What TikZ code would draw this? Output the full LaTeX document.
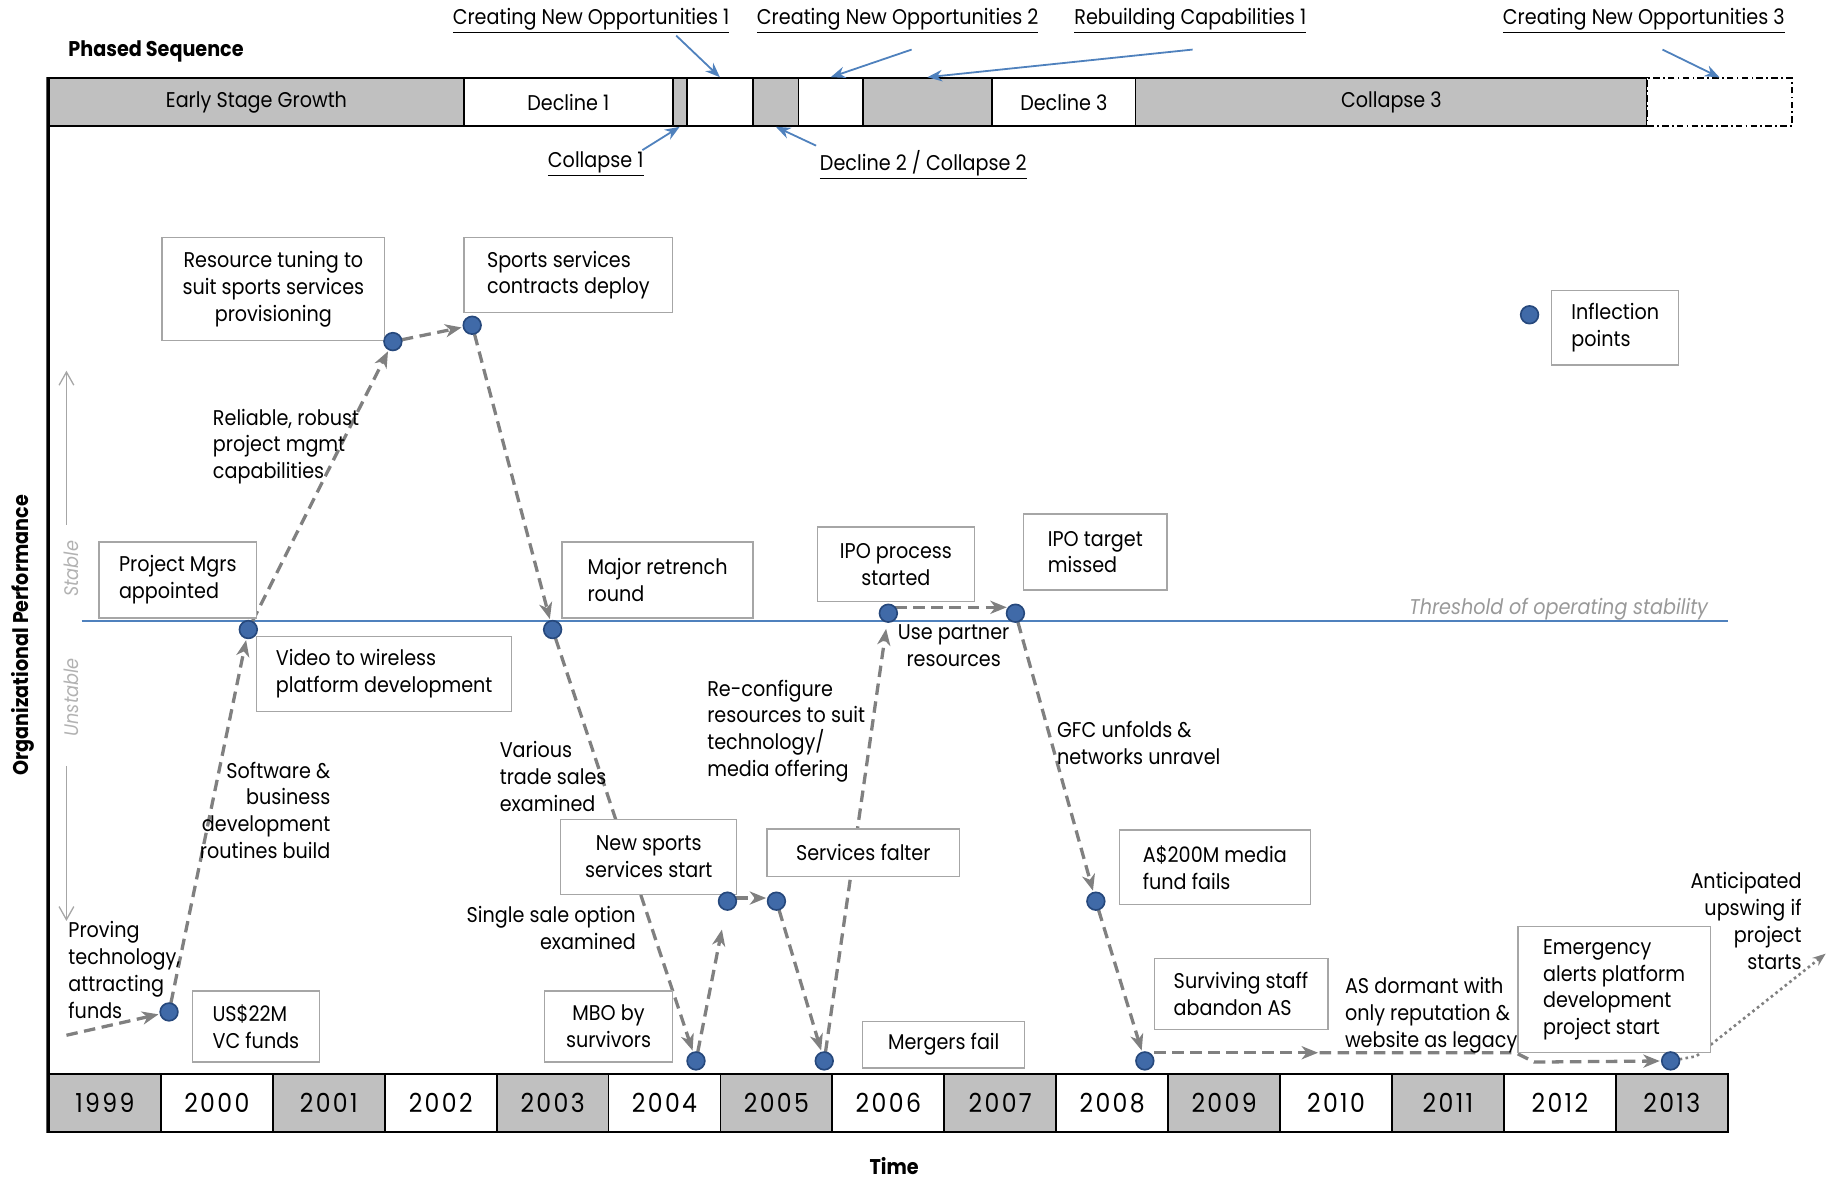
\documentclass[tikz,border=0pt]{standalone}
\usepackage{fontspec}
\setmainfont{Poppins}[FakeStretch=0.9]
\newfontfamily\yearfont{Poppins}[FakeStretch=0.9,LetterSpace=9]
\usetikzlibrary{arrows.meta,calc,positioning}
\definecolor{barfill}{RGB}{192,192,192}
\definecolor{dotfill}{RGB}{64,106,168}
\definecolor{dotedge}{RGB}{38,72,124}
\definecolor{linkblue}{RGB}{79,129,189}
\definecolor{trendgray}{RGB}{128,128,128}

\begin{document}
\begin{tikzpicture}[x=0.25mm, y=-0.25mm, >=Stealth, font=\fontsize{13}{16.3}\selectfont,
    phase/.style={draw, line width=1.1pt, minimum height=10.25mm, inner sep=0pt},
    yearcell/.style={draw, line width=1.1pt, minimum width=24mm, minimum height=12.5mm, inner sep=0pt, font=\yearfont\fontsize{16}{16}\selectfont},
    box/.style={draw=gray!70, fill=white, line width=0.8pt, inner sep=2pt},
    note/.style={inner sep=1pt},
    dotspot/.style={circle, minimum size=3.8mm, inner sep=0pt},
    dot/.style={circle, fill=dotfill, draw=dotedge, line width=1pt, minimum size=3.8mm, inner sep=0pt},
    trend/.style={draw=trendgray, line width=2pt, dash pattern=on 7pt off 4pt, shorten >=1pt, arrows={-Stealth[length=10pt, width=8pt, inset=3pt]}},
    pointer/.style={draw=linkblue, line width=1.1pt, arrows={-Stealth[length=9pt, width=7pt]}},
    toplabel/.style={inner sep=1pt},
    heading/.style={font=\bfseries\fontsize{13}{15}\selectfont, inner sep=1pt}
]
    \useasboundingbox (0,0) rectangle (1568,1013);

    % phased sequence bar
    \node[heading, anchor=west] (title) at (57,44) {Phased Sequence};
    \foreach \n/\a/\b/\c/\t in {esg/42/398/barfill/Early Stage Growth, dec1/398/577/white/Decline 1,
        col1b/577/589/barfill/{}, cno1b/589/646/white/{}, dc2b/646/685/barfill/{},
        cno2b/685/740/white/{}, rc1b/740/851/barfill/{}, dec3/851/974/white/Decline 3,
        col3/974/1413/barfill/Collapse 3}{
        \node[phase, fill=\c, minimum width={(\b-\a)*0.25mm}] (\n) at ({(\a+\b)/2},87.5) {\t};
    }
    \node[phase, fill=white, line width=0.8pt, dash pattern=on 4pt off 2pt on 1pt off 2pt, minimum width=31mm] (cno3b) at (1475,87.5) {};

    \node[toplabel] (lcno1) at (507,18) {\underline{Creating New Opportunities 1}};
    \node[toplabel] (lcno2) at (770,18) {\underline{Creating New Opportunities 2}};
    \node[toplabel] (lrc1) at (1021,18) {\underline{Rebuilding Capabilities 1}};
    \node[toplabel] (lcno3) at (1410,18) {\underline{Creating New Opportunities 3}};
    \node[toplabel] (lcol1) at (511,141) {\underline{Collapse 1}};
    \node[toplabel] (ldc2) at (792,141) {\underline{Decline 2 / Collapse 2}};

    \draw[pointer] ($(lcno1.south)+(73,0)$) -- (cno1b.north);
    \draw[pointer] ($(lcno2.south)+(12,12)$) -- (cno2b.north);
    \draw[pointer] ($(lrc1.south)+(2,12)$) -- (rc1b.north);
    \draw[pointer] ($(lcno3.south)+(16,12)$) -- (cno3b.north);
    \draw[pointer] ($(lcol1.north)+(40,0)$) -- (col1b.south);
    \draw[pointer] ($(ldc2.north)+(-92,-2)$) -- (dc2b.south);

    % years
    \foreach \yr/\c in {1999/barfill,2000/white,2001/barfill,2002/white,2003/barfill,
        2004/white,2005/barfill,2006/white,2007/barfill,2008/white,2009/barfill,
        2010/white,2011/barfill,2012/white,2013/barfill}{
        \node[yearcell, fill=\c] (y\yr) at ({90+96*(\yr-1999)},946) {\yr};
    }
    \draw[line width=2.2pt] (esg.north west) -- (y1999.south west);
    \node[heading] (time) at (767,1000) {Time};
    \node[heading, rotate=90] (perf) at (20,545) {Organizational Performance};

    % stability
    \coordinate (th0) at (70,533);
    \coordinate (th1) at (1482,533);
    \draw[linkblue, line width=1.1pt] (th0) -- (th1);
    \node[text=gray!80, font=\itshape\fontsize{13}{15}\selectfont] (thlabel) at (1337,523) {Threshold of operating stability};
    \node[text=gray!60, font=\itshape\fontsize{12}{14}\selectfont, rotate=90] (lstable) at (61,488) {Stable};
    \node[text=gray!60, font=\itshape\fontsize{12}{14}\selectfont, rotate=90] (lunstable) at (61,598) {Unstable};
    \coordinate (st0) at (57,450);
    \coordinate (st1) at (57,318);
    \coordinate (un0) at (57,657);
    \coordinate (un1) at (57,790);
    \draw[gray!70, line width=0.8pt, -{Straight Barb[length=8pt, width=9pt]}] (st0) -- (st1);
    \draw[gray!70, line width=0.8pt, -{Straight Barb[length=8pt, width=9pt]}] (un0) -- (un1);

    % inflection points
    \node[dotspot] (p1) at (145,868) {};
    \node[dotspot] (p2) at (213,540) {};
    \node[dotspot] (p3) at (337,293) {};
    \node[dotspot] (p4) at (405,279) {};
    \node[dotspot] (p5) at (474,540) {};
    \node[dotspot] (p6) at (597,910) {};
    \node[dotspot] (p7) at (624,773) {};
    \node[dotspot] (p8) at (666,773) {};
    \node[dotspot] (p9) at (707,910) {};
    \node[dotspot] (p10) at (762,526) {};
    \node[dotspot] (p11) at (871,526) {};
    \node[dotspot] (p12) at (940,773) {};
    \node[dotspot] (p13) at (982,910) {};
    \node[dotspot] (p14) at (1433,910) {};

    \coordinate (s0) at (57,888);
    \coordinate (m1) at (1132,903);
    \coordinate (m2) at (1300,903);
    \coordinate (m3) at (1316,911);
    \coordinate (m4) at (1455,906);
    \coordinate (up) at (1566,818);
    \draw[trend] (s0) -- (p1);
    \draw[trend] (p1) -- (p2);
    \draw[trend] (p2) -- (p3);
    \draw[trend] (p3) -- (p4);
    \draw[trend] (p4) -- (p5);
    \draw[trend] (p5) -- (p6);
    \draw[trend, shorten >=12pt] (p6) -- (p7);
    \draw[trend] (p7.20) -- (p8.160);
    \draw[trend] (p8) -- (p9);
    \draw[trend, shorten >=4pt] (p9) -- (p10);
    \draw[trend] (p10.40) -- (p11.140);
    \draw[trend] (p11) -- (p12);
    \draw[trend] (p12) -- (p13);
    \draw[trend] (p13.east |- m1) -- (m1);
    \draw[trend] (m1) -- (m2) -- (m3) -- (p14);
    \draw[trendgray, line width=1.6pt, dotted, -{Stealth[length=8pt, width=6pt]}] (p14) -- (m4) -- (up);

    % event boxes
    \node[box, minimum width=47.75mm, minimum height=22mm, align=center] (bresource) at (234.5,248) {Resource tuning to\\suit sports services\\provisioning};
    \node[box, minimum width=44.75mm, minimum height=16mm, align=left] (bsports) at (487.5,236) {Sports services\\contracts deploy};
    \node[box, minimum width=33.75mm, minimum height=16.25mm, align=left] (bpm) at (152.5,497.5) {Project Mgrs\\appointed};
    \node[box, minimum width=54.75mm, minimum height=16mm, align=left] (bvideo) at (329.5,578) {Video to wireless\\platform development};
    \node[box, minimum width=41mm, minimum height=16.25mm, align=left] (bretrench) at (564,497.5) {Major retrench\\round};
    \node[box, minimum width=33.75mm, minimum height=16mm, align=center] (bipo) at (768.5,484) {IPO process\\started};
    \node[box, minimum width=30.75mm, minimum height=16.25mm, align=left] (bipomiss) at (939.5,473.5) {IPO target\\missed};
    \node[box, minimum width=27.25mm, minimum height=16mm, align=left] (blegend) at (1385.5,281) {Inflection\\points};
    \node[box, minimum width=37.75mm, minimum height=16mm, align=center] (bnewsports) at (556.5,735) {New sports\\services start};
    \node[box, minimum width=41.25mm, minimum height=10.25mm, align=center] (bfalter) at (740.5,731.5) {Services falter};
    \node[box, minimum width=41mm, minimum height=16mm, align=left] (bmedia) at (1042,744) {A\$200M media\\fund fails};
    \node[box, minimum width=27.5mm, minimum height=15.25mm, align=center] (bmbo) at (522,880.5) {MBO by\\survivors};
    \node[box, minimum width=27.25mm, minimum height=15.25mm, align=left] (bvc) at (219.5,880.5) {US\$22M\\VC funds};
    \node[box, minimum width=34.75mm, minimum height=10mm, align=center] (bmergers) at (809.5,896) {Mergers fail};
    \node[box, minimum width=37.25mm, minimum height=15.25mm, align=left] (bstaff) at (1064.5,852.5) {Surviving staff\\abandon AS};
    \node[box, minimum width=41.25mm, minimum height=27mm, align=left] (bemerg) at (1384.5,849) {Emergency\\alerts platform\\development\\project start};

    % notes along the path
    \node[note, anchor=west, align=left] (nreliable) at (181,383) {Reliable, robust\\project mgmt\\capabilities};
    \node[note, anchor=east, align=right] (nsoftware) at (285,695) {Software \&\\business\\development\\routines build};
    \node[note, anchor=west, align=left] (nproving) at (57,832) {Proving\\technology,\\attracting\\funds};
    \node[note, anchor=west, align=left] (nvarious) at (427,666) {Various\\trade sales\\examined};
    \node[note, anchor=east, align=right] (nsingle) at (547,796) {Single sale option\\examined};
    \node[note, anchor=west, align=left] (nreconf) at (605,627) {Re-configure\\resources to suit\\technology/\\media offering};
    \node[note, align=center] (npartner) at (818,554) {Use partner\\resources};
    \node[note, anchor=west, align=left] (ngfc) at (905,637) {GFC unfolds \&\\networks unravel};
    \node[note, anchor=west, align=left] (ndormant) at (1152,871) {AS dormant with\\only reputation \&\\website as legacy};
    \node[note, anchor=east, align=right] (nupswing) at (1547,790) {Anticipated\\upswing if\\project\\starts};

    \foreach \i in {1,...,14}{
        \node[dot] at (p\i) {};
    }
    \node[dot] (legdot) at (1312,270) {};
\end{tikzpicture}
\end{document}
